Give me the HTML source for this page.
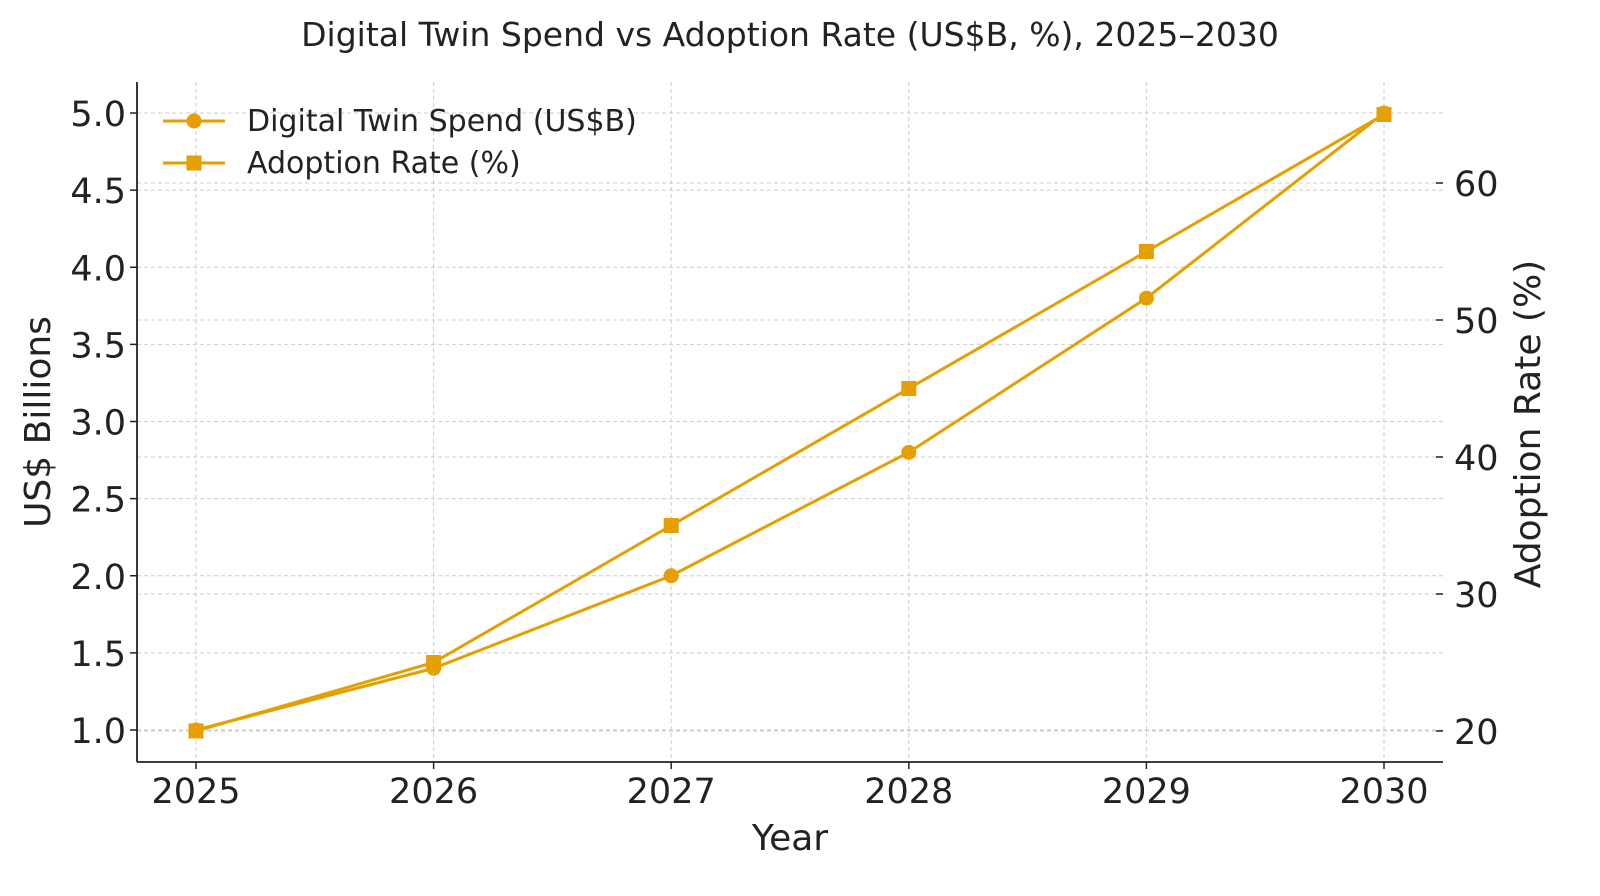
<!DOCTYPE html>
<html><head><meta charset="utf-8"><style>
html,body{margin:0;padding:0;background:#fff;overflow:hidden;}
svg{display:block;}
svg text{font-family:"DejaVu Sans","Liberation Sans",sans-serif;fill:#222;}
</style></head><body>
<svg id="chart" width="1600" height="896" xmlns="http://www.w3.org/2000/svg">
<text x="790" y="46" font-size="33" text-anchor="middle">Digital Twin Spend vs Adoption Rate (US$B, %), 2025–2030</text>
<g id="grid"></g><g id="axes"></g><g id="series"></g>
<text x="790" y="850" font-size="36" text-anchor="middle">Year</text>
<text transform="translate(50,422) rotate(-90)" font-size="36" text-anchor="middle">US$ Billions</text>
<text transform="translate(1540,424) rotate(-90)" font-size="36" text-anchor="middle">Adoption Rate (%)</text>
<g>
<g><line x1="163" y1="121" x2="225" y2="121" stroke="#E69F00" stroke-width="3"/><circle cx="194" cy="121" r="7.5" fill="#E69F00"/><text x="247" y="131" font-size="30">Digital Twin Spend (US$B)</text></g>
<g><line x1="163" y1="163" x2="225" y2="163" stroke="#E69F00" stroke-width="3"/><rect x="186.5" y="155.5" width="15" height="15" fill="#E69F00"/><text x="247" y="173" font-size="30">Adoption Rate (%)</text></g>
</g>
</svg>
<script>
const years=[2025,2026,2027,2028,2029,2030];
const spend=[1.0,1.4,2.0,2.8,3.8,5.0];
const adoption=[20,25,35,45,55,65];
const leftTicks=[1.0,1.5,2.0,2.5,3.0,3.5,4.0,4.5,5.0];
const rightTicks=[20,30,40,50,60];
const NS="http://www.w3.org/2000/svg";
const X0=137,X1=1443,Y0=762,Y1=82;
const xs=y=>196+(y-2025)*(1384-196)/5;
const yl=v=>730-(v-1)*(730-113)/4;
const yr=v=>731-(v-20)*(731-183)/40;
function mk(t,a,p){const e=document.createElementNS(NS,t);for(const k in a)e.setAttribute(k,a[k]);(p||document.getElementById('chart')).appendChild(e);return e;}
const grid=document.getElementById('grid'),axes=document.getElementById('axes'),ser=document.getElementById('series');
years.forEach(y=>{
 const g=mk('line',{x1:xs(y),x2:xs(y),y1:Y1,y2:Y0,stroke:'#ccc','stroke-dasharray':'4,3','stroke-width':1},grid);
 
 
 mk('line',{x1:xs(y),x2:xs(y),y1:Y0,y2:Y0+7,stroke:'#222','stroke-width':1.5},axes);
 const t=mk('text',{x:xs(y),y:Y0+41,'font-size':35,'text-anchor':'middle'},axes);t.textContent=y;
 
 
});
leftTicks.forEach(v=>{
 const g=mk('line',{x1:X0,x2:X1,y1:yl(v),y2:yl(v),stroke:'#ccc','stroke-dasharray':'4,3','stroke-width':1},grid);
 
 
 mk('line',{x1:X0-7,x2:X0,y1:yl(v),y2:yl(v),stroke:'#222','stroke-width':1.5},axes);
 const t=mk('text',{x:X0-11,y:yl(v)+13,'font-size':35,'text-anchor':'end'},axes);t.textContent=v.toFixed(1);
 
 
});
rightTicks.forEach(v=>{
 const g=mk('line',{x1:X0,x2:X1,y1:yr(v),y2:yr(v),stroke:'#ccc','stroke-dasharray':'4,3','stroke-width':1},grid);
 
 
 mk('line',{x1:X1,x2:X1-7,y1:yr(v),y2:yr(v),stroke:'#222','stroke-width':1.5},axes);
 const t=mk('text',{x:X1+11,y:yr(v)+13,'font-size':35},axes);t.textContent=v;
 
 
});
mk('line',{x1:X0,x2:X0,y1:Y1,y2:Y0,stroke:'#222','stroke-width':1.8},axes);
mk('line',{x1:X0,x2:X1,y1:Y0,y2:Y0,stroke:'#222','stroke-width':1.8},axes);
const p1=mk('polyline',{points:years.map((y,i)=>xs(y)+','+yl(spend[i])).join(' '),fill:'none',stroke:'#E69F00','stroke-width':3},ser);


const p2=mk('polyline',{points:years.map((y,i)=>xs(y)+','+yr(adoption[i])).join(' '),fill:'none',stroke:'#E69F00','stroke-width':3},ser);


years.forEach((y,i)=>{
 const c=mk('circle',{cx:xs(y),cy:yl(spend[i]),r:7.5,fill:'#E69F00'},ser);
 
 
 const r=mk('rect',{x:xs(y)-7.5,y:yr(adoption[i])-7.5,width:15,height:15,fill:'#E69F00'},ser);
 
 
});
</script>
</body></html>
